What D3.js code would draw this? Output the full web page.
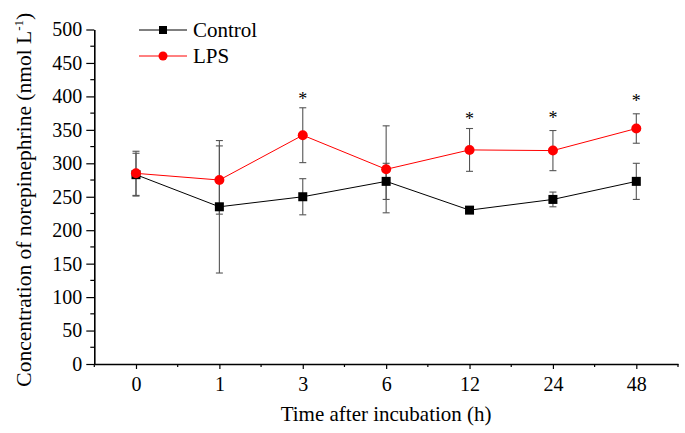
<!DOCTYPE html>
<html>
<head>
<meta charset="utf-8">
<script src="https://cdn.jsdelivr.net/npm/d3@7"></script>
<style>
  html, body { margin: 0; padding: 0; background: #fff; }
  svg { display: block; }
</style>
</head>
<body>
<svg id="chart" width="685" height="433"></svg>
<script>
const timeLabels = ["0", "1", "3", "6", "12", "24", "48"];
const controlValues = [283, 235, 250, 273, 230, 246, 273];
const controlErrors = [32, 99, 27, 27, 3, 11, 27];
const lpsValues = [285, 275, 342, 291, 320, 319, 352];
const lpsErrors = [33, 51, 41, 65, 32, 30, 22];
const starIndex = [2, 4, 5, 6];
const starValues = [399, 369, 371, 396];
const yTicks = [0, 50, 100, 150, 200, 250, 300, 350, 400, 450, 500];

const FONT = "'Liberation Serif'";

const svg = d3.select("#chart");
const plotLeft = 94.3, plotRight = 678, plotTop = 29.5, plotBottom = 364;

const x = d3.scaleLinear().domain([-0.5, 6.5]).range([plotLeft, plotRight]);
const y = d3.scaleLinear().domain([0, 500]).range([plotBottom, plotTop]);

const yMinor = d3.range(25, 500, 50);
const xMinor = d3.range(-0.5, 6.6, 1);

const g = svg.append("g");

// X axis
const xAxis = d3.axisBottom(x)
  .tickValues(d3.range(0, 7))
  .tickFormat(i => timeLabels[i])
  .tickSize(5).tickPadding(8).tickSizeOuter(0);
const gx = g.append("g").attr("transform", `translate(0,${plotBottom})`).call(xAxis);
gx.append("g").selectAll("line").data(xMinor).join("line")
  .attr("x1", d => x(d)).attr("x2", d => x(d))
  .attr("y1", 0).attr("y2", 3).attr("stroke", "#000").attr("stroke-width", 1.2);

// Y axis
const yAxis = d3.axisLeft(y).tickValues(yTicks).tickSize(8).tickPadding(4).tickSizeOuter(0);
const gy = g.append("g").attr("transform", `translate(${plotLeft},0)`).call(yAxis);
gy.append("g").selectAll("line").data(yMinor).join("line")
  .attr("x1", 0).attr("x2", -4)
  .attr("y1", d => y(d)).attr("y2", d => y(d)).attr("stroke", "#000").attr("stroke-width", 1.2);

[gx, gy].forEach(a => {
  a.select(".domain").attr("stroke-width", 1.6);
  a.selectAll(".tick line").attr("stroke-width", 1.2);
  a.selectAll(".tick text").attr("fill", "#000")
    .style("font-family", FONT).style("font-size", "20px");
});

// Axis titles
svg.append("text")
  .attr("x", (plotLeft + plotRight) / 2).attr("y", 421)
  .attr("text-anchor", "middle")
  .style("font-family", FONT).style("font-size", "21px")
  .text("Time after incubation (h)");

const yt = svg.append("text")
  .attr("transform", `translate(31,${(plotTop + plotBottom) / 2 + 3}) rotate(-90)`)
  .attr("text-anchor", "middle")
  .style("font-family", FONT).style("font-size", "21.5px");
yt.append("tspan").text("Concentration of norepinephrine (nmol L");
yt.append("tspan").attr("dy", "-8").style("font-size", "13px").text("-1");
yt.append("tspan").attr("dy", "8").text(")");

// Series
const series = [
  { name: "Control", values: controlValues, errors: controlErrors, color: "#000", marker: "square" },
  { name: "LPS", values: lpsValues, errors: lpsErrors, color: "#ff0000", marker: "circle" }
];

const line = d3.line().x((d, i) => x(i)).y(d => y(d));

series.forEach(s => {
  const eb = svg.append("g").attr("stroke", "#555").attr("stroke-width", 1.1);
  s.values.forEach((v, i) => {
    const e = s.errors[i];
    const cx = x(i);
    eb.append("line").attr("x1", cx).attr("x2", cx).attr("y1", y(v + e)).attr("y2", y(v - e));
    eb.append("line").attr("x1", cx - 3.5).attr("x2", cx + 3.5).attr("y1", y(v + e)).attr("y2", y(v + e));
    eb.append("line").attr("x1", cx - 3.5).attr("x2", cx + 3.5).attr("y1", y(v - e)).attr("y2", y(v - e));
  });
});

series.forEach(s => {
  svg.append("path").datum(s.values)
    .attr("d", line).attr("fill", "none")
    .attr("stroke", s.color).attr("stroke-width", 1);
  const m = svg.append("g");
  s.values.forEach((v, i) => {
    if (s.marker === "square") {
      m.append("rect").attr("x", x(i) - 4.5).attr("y", y(v) - 4.5)
        .attr("width", 9).attr("height", 9).attr("fill", s.color);
    } else {
      m.append("circle").attr("cx", x(i)).attr("cy", y(v)).attr("r", 5).attr("fill", s.color);
    }
  });
});

// Significance stars
svg.append("g").selectAll("text").data(starIndex).join("text")
  .attr("x", i => x(i)).attr("y", (d, k) => y(starValues[k]) + 8)
  .attr("text-anchor", "middle")
  .style("font-family", FONT).style("font-size", "18px")
  .text("*");

// Legend
const legend = svg.append("g");
const legendItems = [
  { s: series[0], yy: 30 },
  { s: series[1], yy: 56 }
];
legendItems.forEach(({ s, yy }) => {
  legend.append("line").attr("x1", 139).attr("x2", 187).attr("y1", yy).attr("y2", yy)
    .attr("stroke", s.color).attr("stroke-width", 1);
  if (s.marker === "square") {
    legend.append("rect").attr("x", 163 - 4).attr("y", yy - 4).attr("width", 8).attr("height", 8).attr("fill", s.color);
  } else {
    legend.append("circle").attr("cx", 163).attr("cy", yy).attr("r", 4.5).attr("fill", s.color);
  }
  legend.append("text").attr("x", 193).attr("y", yy + 7)
    .style("font-family", FONT).style("font-size", "21px").text(s.name);
});
</script>
</body>
</html>
